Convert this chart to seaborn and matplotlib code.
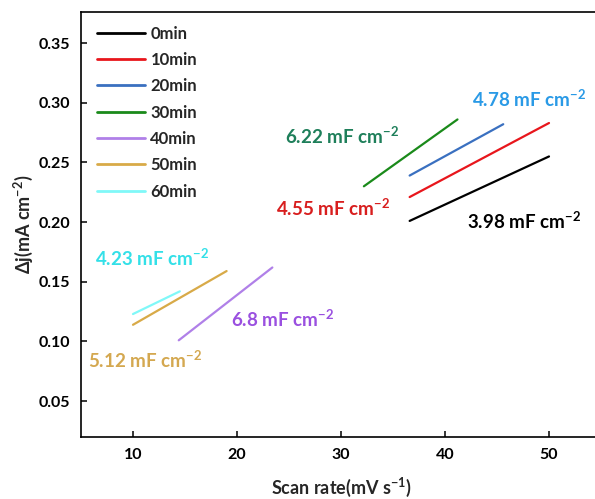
import pandas as pd
import matplotlib.pyplot as plt
import seaborn as sns

# === Data (linear fits, endpoints) ===
labels = ["0min", "10min", "20min", "30min", "40min", "50min", "60min"]
x_0min = [36.6, 50.0]
y_0min = [0.201, 0.255]
x_10min = [36.6, 50.0]
y_10min = [0.221, 0.283]
x_20min = [36.6, 45.6]
y_20min = [0.239, 0.282]
x_30min = [32.2, 41.2]
y_30min = [0.230, 0.286]
x_40min = [14.4, 23.4]
y_40min = [0.101, 0.162]
x_50min = [10.0, 19.0]
y_50min = [0.114, 0.159]
x_60min = [10.0, 14.5]
y_60min = [0.123, 0.142]

capacitance = ["3.98", "4.55", "4.78", "6.22", "6.8", "5.12", "4.23"]

line_colors = ["#000000", "#e8161c", "#3a70c0", "#1a8a1a", "#b080e8", "#d8aa48", "#80f8f8"]
text_colors = ["#000000", "#d81e1e", "#2a9ae6", "#1e7f5a", "#9a50e0", "#d4a850", "#33e0e8"]

xs = [x_0min, x_10min, x_20min, x_30min, x_40min, x_50min, x_60min]
ys = [y_0min, y_10min, y_20min, y_30min, y_40min, y_50min, y_60min]

rows = []
for lab, xv, yv in zip(labels, xs, ys):
    for a, b in zip(xv, yv):
        rows.append({"Scan rate": a, "dj": b, "time": lab})
df = pd.DataFrame(rows)

# === Style ===
sns.set_theme(style="ticks")
plt.rcParams["font.family"] = ["Lato", "DejaVu Sans"]
plt.rcParams["font.weight"] = "bold"
plt.rcParams["mathtext.fontset"] = "custom"
plt.rcParams["mathtext.rm"] = "Lato:bold"
plt.rcParams["mathtext.it"] = "Lato:bold"
plt.rcParams["mathtext.bf"] = "Lato:bold"

fig = plt.figure(figsize=(5.95, 4.99), dpi=100)
ax = fig.add_axes([81 / 595, 62 / 499, 520 / 595, 425 / 499])

sns.lineplot(data=df, x="Scan rate", y="dj", hue="time", hue_order=labels,
             palette=line_colors, linewidth=1.6, ax=ax, legend=True)

ax.set_xlim(5, 55)
ax.set_ylim(0.02, 0.376)
ax.set_xticks([10, 20, 30, 40, 50])
ax.set_yticks([0.05, 0.10, 0.15, 0.20, 0.25, 0.30, 0.35])
ax.set_yticklabels(["0.05", "0.10", "0.15", "0.20", "0.25", "0.30", "0.35"])
ax.tick_params(direction="in", length=4, width=1.1, labelsize=11.5, pad=8, colors="black")
for lbl in ax.get_xticklabels() + ax.get_yticklabels():
    lbl.set_fontweight("bold")
for side in ["left", "bottom", "top"]:
    ax.spines[side].set_linewidth(1.2)
    ax.spines[side].set_color("black")
ax.spines["right"].set_visible(False)

ax.set_xlabel("Scan rate(mV s$^{-1}$)", fontsize=13, fontweight="bold", labelpad=10)
ax.set_ylabel("Δj(mA cm$^{-2}$)", fontsize=13, fontweight="bold", labelpad=2)

leg = ax.legend(loc="upper left", bbox_to_anchor=(0.031, 0.968), frameon=False,
                fontsize=12, handlelength=2.9, handletextpad=0.3, labelspacing=0.62,
                borderpad=0, borderaxespad=0)
for t in leg.get_texts():
    t.set_fontweight("bold")
for h in leg.get_lines():
    h.set_linewidth(2)

# === Slope annotations ===
text_pos = [(42.1, 0.1948), (23.75, 0.2057), (42.6, 0.2962), (24.6, 0.266),
            (19.4, 0.1127), (5.7, 0.0777), (6.35, 0.1638)]
for cap, col, (tx, ty) in zip(capacitance, text_colors, text_pos):
    ax.text(tx, ty, cap + " mF cm$^{-2}$", color=col, fontsize=13.5,
            fontweight="bold", va="baseline", ha="left")

plt.savefig("out.png", dpi=100)
